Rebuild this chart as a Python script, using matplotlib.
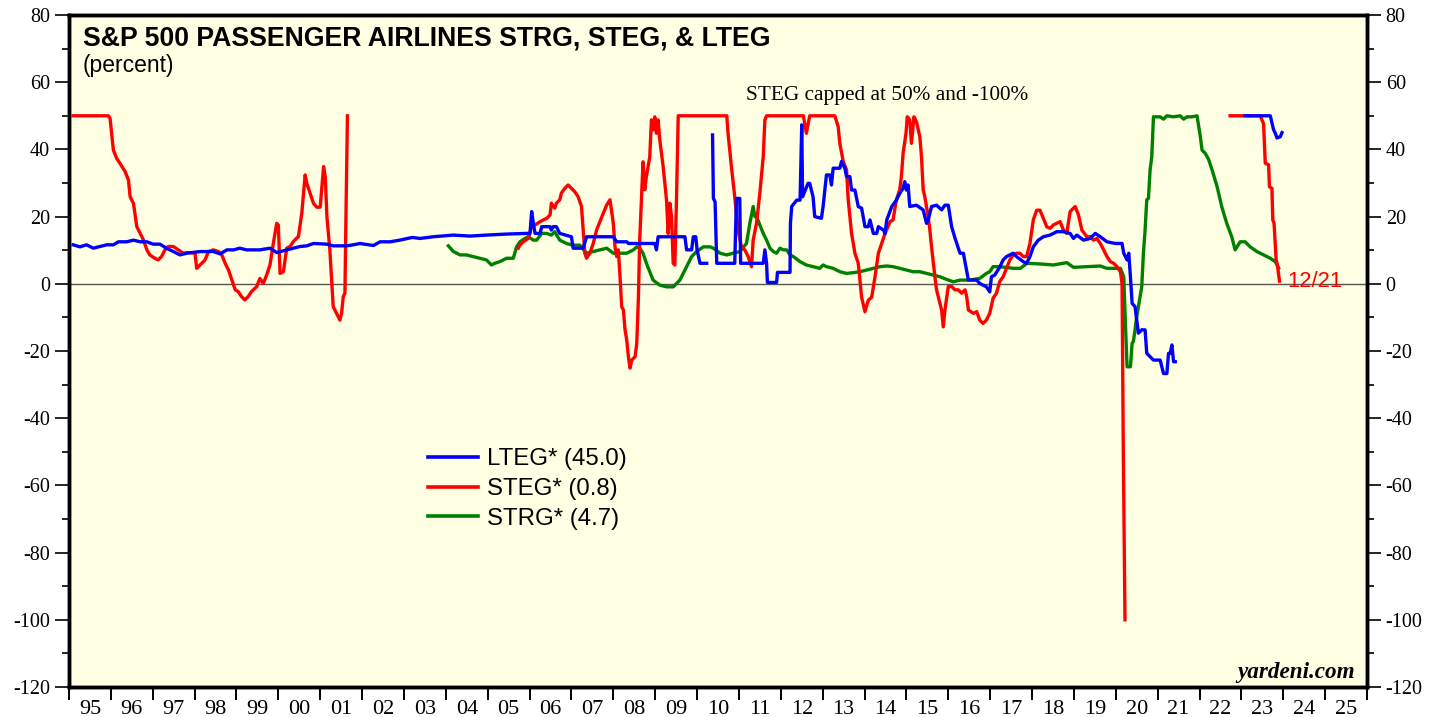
import numpy as np
import matplotlib
matplotlib.use("Agg")
import matplotlib.pyplot as plt
from matplotlib.lines import Line2D

nan = np.nan

# (year, percent) pairs; nan marks a break in the line
lteg_pts = [
    (1995.10, 11.6), (1995.26, 11.0), (1995.42, 11.6), (1995.58, 10.6), (1995.74, 11.1),
    (1995.90, 11.6), (1996.06, 11.6), (1996.18, 12.5), (1996.38, 12.5), (1996.54, 13.0),
    (1996.70, 12.5), (1996.86, 12.5), (1997.01, 11.8), (1997.17, 11.8), (1997.33, 10.6),
    (1997.49, 9.6), (1997.65, 8.6), (1997.81, 9.1), (1998.13, 9.6), (1998.45, 9.6),
    (1998.61, 8.9), (1998.77, 10.1), (1998.93, 10.1), (1999.08, 10.6), (1999.24, 10.1),
    (1999.56, 10.1), (1999.80, 10.6), (1999.96, 9.3), (2000.20, 10.1), (2000.36, 10.6),
    (2000.52, 11.1), (2000.68, 11.3), (2000.84, 12.0), (2001.16, 11.8), (2001.31, 11.3),
    (2001.63, 11.3), (2001.79, 11.6), (2001.95, 12.0), (2002.27, 11.4), (2002.43, 12.5),
    (2002.67, 12.5), (2002.90, 13.0), (2003.20, 13.8), (2003.38, 13.5), (2003.70, 14.0),
    (2004.18, 14.5), (2004.57, 14.2), (2004.97, 14.5), (2005.45, 14.8), (2005.93, 15.0),
    (2006.01, 15.0), (2006.05, 21.5), (2006.09, 18.0), (2006.13, 15.0), (2006.25, 15.0),
    (2006.29, 17.0), (2006.49, 17.0), (2006.52, 16.0), (2006.56, 17.0), (2006.64, 17.0),
    (2006.72, 15.0), (2007.00, 14.0), (2007.04, 10.6), (2007.28, 10.6), (2007.36, 14.0),
    (2008.00, 14.0), (2008.08, 12.5), (2008.32, 12.5), (2008.36, 12.0), (2008.99, 12.0),
    (2009.03, 10.1), (2009.07, 14.0), (2009.71, 14.0), (2009.75, 10.1), (2009.87, 10.1),
    (2009.91, 14.0), (2009.97, 14.0), (2010.00, 10.1), (2010.07, 6.1), (2010.23, 6.1),
    (2010.30, nan),
    (2010.37, 44.3), (2010.39, 25.4), (2010.43, 24.4), (2010.47, 6.1), (2010.90, 6.1),
    (2010.94, 25.4), (2011.02, 25.4), (2011.04, 6.1), (2011.58, 6.1), (2011.62, 10.1),
    (2011.66, 6.1), (2011.68, 0.4), (2011.90, 0.4), (2011.92, 3.4), (2012.22, 3.4),
    (2012.23, 18.0), (2012.26, 23.0), (2012.38, 24.9), (2012.46, 24.9), (2012.50, 47.3),
    (2012.52, 25.9), (2012.65, 29.9), (2012.69, 29.9), (2012.77, 25.9), (2012.81, 20.0),
    (2012.97, 19.5), (2013.01, 23.0), (2013.09, 32.4), (2013.17, 32.4), (2013.21, 29.4),
    (2013.25, 34.4), (2013.41, 34.4), (2013.45, 36.4), (2013.53, 34.4), (2013.57, 31.9),
    (2013.65, 31.9), (2013.69, 27.9), (2013.77, 27.9), (2013.85, 23.0), (2013.93, 22.5),
    (2014.01, 17.0), (2014.09, 17.0), (2014.13, 19.0), (2014.21, 15.0), (2014.29, 15.0),
    (2014.33, 17.0), (2014.45, 16.0), (2014.49, 15.0), (2014.53, 19.0), (2014.65, 23.0),
    (2014.76, 24.9), (2014.84, 26.9), (2014.92, 28.4), (2014.96, 30.4), (2015.00, 27.9),
    (2015.04, 29.4), (2015.08, 23.0), (2015.24, 23.4), (2015.40, 22.0), (2015.48, 18.0),
    (2015.52, 19.0), (2015.60, 23.0), (2015.72, 23.4), (2015.84, 22.0), (2015.92, 23.4),
    (2016.00, 23.4), (2016.08, 17.0), (2016.16, 13.6), (2016.28, 9.1), (2016.36, 9.1),
    (2016.48, 1.1), (2016.68, 1.1), (2016.75, 0.1), (2016.91, -0.9), (2016.99, -2.4),
    (2017.03, 2.1), (2017.11, 2.6), (2017.23, 5.0), (2017.31, 7.1), (2017.39, 8.1),
    (2017.55, 9.1), (2017.63, 8.1), (2017.79, 6.6), (2017.87, 6.1), (2017.95, 8.1),
    (2018.03, 11.0), (2018.15, 13.0), (2018.27, 14.0), (2018.43, 14.5), (2018.59, 15.5),
    (2018.75, 15.5), (2018.91, 15.0), (2018.99, 13.5), (2019.07, 14.5), (2019.23, 13.0),
    (2019.39, 13.5), (2019.51, 15.0), (2019.63, 14.0), (2019.79, 12.5), (2019.99, 12.0),
    (2020.15, 12.0), (2020.19, 9.1), (2020.27, 7.1), (2020.31, 9.1), (2020.35, 2.1),
    (2020.39, -5.8), (2020.46, -6.8), (2020.54, -14.7), (2020.62, -13.7), (2020.70, -13.7),
    (2020.74, -20.7), (2020.90, -22.7), (2021.06, -22.7), (2021.14, -26.7), (2021.22, -26.7),
    (2021.26, -20.7), (2021.30, -20.7), (2021.34, -18.2), (2021.38, -23.2), (2021.42, -23.2),
    (2022.00, nan),
    (2023.09, 50.0), (2023.69, 50.0), (2023.77, 45.8), (2023.81, 44.8), (2023.85, 43.4),
    (2023.93, 43.8), (2023.97, 45.0),
]

steg_pts = [
    (1995.10, 50.0), (1995.94, 50.0), (1995.98, 49.3), (1996.06, 39.8), (1996.14, 37.3),
    (1996.22, 35.8), (1996.34, 33.4), (1996.42, 30.9), (1996.46, 25.9), (1996.54, 23.9),
    (1996.62, 17.0), (1996.70, 15.0), (1996.78, 13.0), (1996.86, 10.1), (1996.93, 8.6),
    (1997.05, 7.6), (1997.13, 7.1), (1997.21, 8.1), (1997.29, 10.1), (1997.37, 11.1),
    (1997.49, 11.1), (1997.61, 10.1), (1997.73, 9.1), (1997.85, 9.3), (1998.01, 9.1),
    (1998.05, 4.6), (1998.13, 5.6), (1998.25, 7.1), (1998.33, 9.6), (1998.45, 10.1),
    (1998.57, 9.6), (1998.65, 8.6), (1998.73, 6.1), (1998.81, 4.1), (1998.89, 1.1),
    (1998.97, -1.8), (1999.04, -2.3), (1999.12, -3.8), (1999.20, -4.8), (1999.28, -3.8),
    (1999.36, -2.3), (1999.48, -0.9), (1999.56, 1.6), (1999.64, 0.1), (1999.72, 2.6),
    (1999.80, 5.6), (1999.88, 12.0), (1999.96, 18.0), (2000.00, 17.5), (2000.04, 3.1),
    (2000.12, 3.6), (2000.20, 10.6), (2000.28, 11.1), (2000.36, 12.6), (2000.48, 14.1),
    (2000.56, 21.0), (2000.64, 32.4), (2000.68, 29.9), (2000.76, 26.9), (2000.84, 23.9),
    (2000.92, 22.8), (2001.00, 22.8), (2001.08, 34.9), (2001.12, 31.9), (2001.16, 20.0),
    (2001.23, 10.1), (2001.31, -6.8), (2001.39, -8.8), (2001.47, -10.8), (2001.51, -8.8),
    (2001.55, -3.8), (2001.59, -2.8), (2001.62, 24.9), (2001.65, 50.0),
    (2003.00, nan),
    (2005.73, 10.6), (2005.77, 11.6), (2005.85, 12.5), (2005.97, 13.5), (2006.05, 17.0),
    (2006.13, 17.5), (2006.25, 18.5), (2006.41, 19.5), (2006.49, 20.5), (2006.52, 24.0),
    (2006.60, 22.5), (2006.64, 24.0), (2006.72, 25.0), (2006.76, 27.0), (2006.84, 28.4),
    (2006.92, 29.4), (2007.00, 28.4), (2007.08, 27.4), (2007.16, 25.9), (2007.24, 23.0),
    (2007.28, 16.0), (2007.32, 9.1), (2007.36, 7.6), (2007.44, 9.1), (2007.52, 12.0),
    (2007.60, 16.0), (2007.68, 18.5), (2007.76, 21.0), (2007.84, 23.4), (2007.92, 25.0),
    (2007.96, 21.5), (2008.00, 18.0), (2008.04, 11.0), (2008.08, 8.1), (2008.12, 10.1),
    (2008.16, 2.1), (2008.20, -6.8), (2008.24, -7.8), (2008.28, -13.7), (2008.32, -16.7),
    (2008.36, -21.7), (2008.40, -25.1), (2008.44, -22.7), (2008.52, -21.7), (2008.56, -17.7),
    (2008.60, -3.8), (2008.63, 13.0), (2008.67, 25.0), (2008.71, 36.3), (2008.75, 28.0),
    (2008.79, 31.9), (2008.83, 34.9), (2008.87, 37.8), (2008.91, 48.8), (2008.95, 45.8),
    (2008.99, 49.7), (2009.03, 44.8), (2009.07, 48.8), (2009.11, 42.8), (2009.19, 34.9),
    (2009.27, 25.0), (2009.31, 15.0), (2009.35, 24.0), (2009.39, 20.0), (2009.43, 6.1),
    (2009.47, 5.6), (2009.51, 25.9), (2009.55, 50.0), (2010.71, 50.0), (2010.74, 44.8),
    (2010.82, 34.9), (2010.90, 25.9), (2010.98, 16.0), (2011.06, 11.0), (2011.14, 10.1),
    (2011.22, 8.1), (2011.30, 5.1), (2011.34, 13.0), (2011.42, 18.0), (2011.50, 27.0),
    (2011.58, 37.8), (2011.62, 48.8), (2011.66, 50.0), (2012.54, 50.0), (2012.61, 44.8),
    (2012.69, 50.0), (2013.29, 50.0), (2013.37, 46.8), (2013.41, 41.8), (2013.49, 36.4),
    (2013.57, 33.9), (2013.61, 25.0), (2013.69, 15.0), (2013.77, 9.1), (2013.85, 6.1),
    (2013.93, -4.0), (2014.01, -8.3), (2014.09, -4.9), (2014.17, -4.0), (2014.25, 2.1),
    (2014.33, 9.1), (2014.41, 12.0), (2014.49, 15.0), (2014.61, 18.5), (2014.68, 19.0),
    (2014.76, 25.0), (2014.84, 28.0), (2014.88, 31.9), (2014.92, 38.8), (2014.99, 44.8),
    (2015.02, 49.7), (2015.08, 48.8), (2015.12, 41.8), (2015.18, 49.7), (2015.24, 48.2),
    (2015.32, 43.8), (2015.36, 37.8), (2015.40, 28.0), (2015.44, 25.9), (2015.52, 20.0),
    (2015.56, 16.0), (2015.60, 11.0), (2015.68, 2.1), (2015.72, -1.8), (2015.84, -7.8),
    (2015.88, -12.8), (2015.92, -7.8), (2016.00, -0.8), (2016.08, -0.8), (2016.16, -1.8),
    (2016.24, -1.8), (2016.32, -2.8), (2016.40, -1.8), (2016.44, -3.8), (2016.48, -7.8),
    (2016.60, -8.8), (2016.68, -8.3), (2016.75, -10.8), (2016.83, -11.8), (2016.91, -10.8),
    (2016.99, -8.8), (2017.07, -4.3), (2017.15, -2.8), (2017.23, 0.7), (2017.31, 2.1),
    (2017.39, 4.6), (2017.47, 7.1), (2017.55, 8.6), (2017.63, 9.1), (2017.71, 9.1),
    (2017.79, 8.1), (2017.87, 8.1), (2017.95, 12.0), (2018.03, 19.0), (2018.11, 21.9),
    (2018.19, 21.9), (2018.27, 19.5), (2018.35, 17.0), (2018.43, 16.5), (2018.51, 17.5),
    (2018.59, 18.0), (2018.67, 18.5), (2018.75, 16.0), (2018.83, 15.0), (2018.91, 21.5),
    (2018.99, 22.5), (2019.03, 23.0), (2019.11, 20.5), (2019.19, 16.0), (2019.31, 14.0),
    (2019.39, 14.0), (2019.47, 13.0), (2019.55, 13.5), (2019.63, 12.0), (2019.71, 10.1),
    (2019.79, 8.1), (2019.87, 6.6), (2019.95, 6.1), (2020.03, 5.1), (2020.11, 3.6),
    (2020.15, 0.1), (2020.18, -50.0), (2020.22, -100.0),
    (2021.50, nan),
    (2022.73, 50.0), (2023.45, 50.0), (2023.53, 47.6), (2023.57, 35.9), (2023.65, 35.4),
    (2023.67, 28.9), (2023.73, 28.4), (2023.75, 19.0), (2023.78, 18.0), (2023.83, 7.1),
    (2023.86, 5.6), (2023.91, 0.8),
]

strg_pts = [
    (2004.06, 11.3), (2004.18, 9.6), (2004.34, 8.6), (2004.49, 8.6), (2004.65, 8.1),
    (2004.81, 7.6), (2004.97, 7.1), (2005.09, 5.6), (2005.17, 6.1), (2005.29, 6.6),
    (2005.45, 7.6), (2005.61, 7.6), (2005.69, 11.0), (2005.77, 12.5), (2005.89, 13.5),
    (2005.97, 14.0), (2006.09, 13.0), (2006.17, 13.0), (2006.29, 15.0), (2006.41, 15.0),
    (2006.52, 14.5), (2006.60, 15.5), (2006.72, 13.0), (2006.88, 12.0), (2007.04, 11.5),
    (2007.20, 11.5), (2007.36, 9.1), (2007.52, 9.6), (2007.68, 10.1), (2007.84, 10.6),
    (2008.00, 9.1), (2008.16, 9.1), (2008.32, 9.1), (2008.48, 10.1), (2008.56, 11.0),
    (2008.63, 10.6), (2008.71, 9.1), (2008.79, 6.1), (2008.87, 3.6), (2008.95, 1.1),
    (2009.11, -0.4), (2009.27, -0.9), (2009.43, -0.9), (2009.59, 1.1), (2009.67, 3.1),
    (2009.75, 5.1), (2009.87, 8.1), (2009.99, 9.6), (2010.15, 11.0), (2010.31, 11.0),
    (2010.39, 10.6), (2010.55, 9.1), (2010.71, 8.6), (2010.86, 9.1), (2011.02, 9.6),
    (2011.18, 12.0), (2011.26, 18.0), (2011.34, 23.0), (2011.38, 20.0), (2011.42, 20.0),
    (2011.50, 17.5), (2011.58, 15.0), (2011.66, 13.0), (2011.74, 10.6), (2011.82, 9.6),
    (2011.90, 9.1), (2011.98, 10.6), (2012.06, 10.1), (2012.14, 10.1), (2012.22, 8.6),
    (2012.30, 8.1), (2012.46, 6.6), (2012.61, 5.6), (2012.77, 5.1), (2012.93, 4.6),
    (2013.01, 5.6), (2013.09, 5.1), (2013.25, 4.6), (2013.41, 3.6), (2013.57, 3.1),
    (2013.73, 3.3), (2013.89, 3.6), (2014.05, 4.1), (2014.21, 4.6), (2014.37, 5.1),
    (2014.53, 5.3), (2014.68, 5.1), (2014.84, 4.6), (2015.00, 4.1), (2015.16, 3.6),
    (2015.32, 3.6), (2015.48, 3.1), (2015.64, 2.6), (2015.80, 2.1), (2015.96, 1.3),
    (2016.12, 0.6), (2016.28, 1.1), (2016.44, 1.1), (2016.60, 1.3), (2016.75, 1.6),
    (2016.91, 3.1), (2016.99, 3.6), (2017.07, 5.1), (2017.23, 5.1), (2017.56, 4.6),
    (2017.72, 4.6), (2017.88, 6.1), (2018.20, 5.9), (2018.51, 5.6), (2018.83, 6.3),
    (2018.99, 4.9), (2019.31, 5.1), (2019.63, 5.3), (2019.79, 4.6), (2020.11, 4.6),
    (2020.19, 2.1), (2020.23, -11.8), (2020.27, -24.7), (2020.35, -24.7), (2020.39, -17.7),
    (2020.42, -17.2), (2020.46, -13.7), (2020.50, -9.8), (2020.58, -3.8), (2020.62, -0.9),
    (2020.66, 9.1), (2020.70, 16.0), (2020.74, 25.0), (2020.78, 25.4), (2020.82, 33.9),
    (2020.86, 37.8), (2020.90, 49.7), (2021.06, 49.7), (2021.14, 49.0), (2021.22, 50.0),
    (2021.38, 49.7), (2021.54, 50.0), (2021.62, 49.0), (2021.70, 49.7), (2021.82, 49.7),
    (2021.94, 50.0), (2021.98, 46.8), (2022.02, 43.8), (2022.06, 39.8), (2022.14, 38.8),
    (2022.22, 36.9), (2022.30, 33.9), (2022.42, 28.9), (2022.53, 23.0), (2022.65, 18.0),
    (2022.77, 14.0), (2022.85, 10.1), (2022.97, 12.5), (2023.09, 12.5), (2023.21, 11.0),
    (2023.37, 9.6), (2023.53, 8.6), (2023.69, 7.6), (2023.81, 6.6), (2023.89, 4.7),
]

series_names = ["LTEG* (45.0)", "STEG* (0.8)", "STRG* (4.7)"]
year_labels = ["95", "96", "97", "98", "99", "00", "01", "02", "03", "04", "05",
               "06", "07", "08", "09", "10", "11", "12", "13", "14", "15", "16",
               "17", "18", "19", "20", "21", "22", "23", "24", "25"]
y_ticks = [-120, -100, -80, -60, -40, -20, 0, 20, 40, 60, 80]

plt.rcParams["font.family"] = "Liberation Serif"
plt.rcParams["axes.unicode_minus"] = False

W, H = 1440, 717
fig = plt.figure(figsize=(W / 100, H / 100), dpi=100)
ax = fig.add_axes([69 / W, 30 / H, 1298 / W, 672 / H])
ax.set_facecolor("#FFFFE3")
ax.set_xlim(1995, 2026)
ax.set_ylim(-120, 80)

ax.axhline(0, color="#555555", lw=1.0, zorder=1)

green = np.array(strg_pts)
red = np.array(steg_pts)
blue = np.array(lteg_pts)
ax.plot(green[:, 0], green[:, 1], color="#008000", lw=2.4, zorder=3)
ax.plot(red[:, 0], red[:, 1], color="#FF0000", lw=2.4, zorder=4)
ax.plot(blue[:, 0], blue[:, 1], color="#0000FF", lw=2.4, zorder=5)

# y axis on both sides
ax2 = ax.twinx()
for a in (ax, ax2):
    a.set_ylim(-120, 80)
    a.set_yticks(y_ticks)
    a.set_yticklabels([str(v) for v in y_ticks])
    a.set_yticks(np.arange(-110, 80, 20), minor=True)
    a.tick_params(axis="y", which="major", direction="out", length=10, width=1.2,
                  labelsize=14.5, pad=3.5)
    a.tick_params(axis="y", which="minor", direction="out", length=5, width=1.2)
    for s in a.spines.values():
        s.set_linewidth(2.5)

# x axis: ticks at year boundaries, labels centred in each year
ax.set_xticks(np.arange(1995, 2027))
ax.set_xticks(np.arange(1995.5, 2026, 1), minor=True)
ax.set_xticklabels(year_labels, minor=True)
ax.tick_params(axis="x", which="major", direction="out", length=9.5, width=1.4,
               labelbottom=False)
ax.tick_params(axis="x", which="minor", length=0, labelsize=16, pad=9.5)

fig.text(83 / W, 1 - 45 / H, "S&P 500 PASSENGER AIRLINES STRG, STEG, & LTEG",
         family="Liberation Sans", fontweight="bold", fontsize=19.2, va="baseline")
fig.text(83 / W, 1 - 72 / H, "(percent)", family="Liberation Sans", fontsize=16.5,
         va="baseline")
ax.text(2014.54, 54.7, "STEG capped at 50% and -100%", fontsize=15.3, ha="center",
        va="baseline")
ax.text(2024.09, 0.8, "12/21", color="#FF0000", family="Liberation Sans",
        fontsize=15.8, va="center")
ax.text(0.991, 0.013, "yardeni.com", transform=ax.transAxes, ha="right",
        va="baseline", fontsize=16.7, fontweight="bold", style="italic")

handles = [Line2D([], [], color=c, lw=2.6) for c in ("#0000FF", "#FF0000", "#008000")]
ax.legend(handles, series_names, loc="upper left",
          bbox_to_anchor=(428 / W, 1 - 448 / H), bbox_transform=fig.transFigure,
          frameon=False, prop={"family": "Liberation Sans", "size": 17.3},
          handlelength=2.08, handletextpad=0.37, labelspacing=0.33,
          borderpad=0, borderaxespad=0)

fig.savefig("out.png", dpi=100)
